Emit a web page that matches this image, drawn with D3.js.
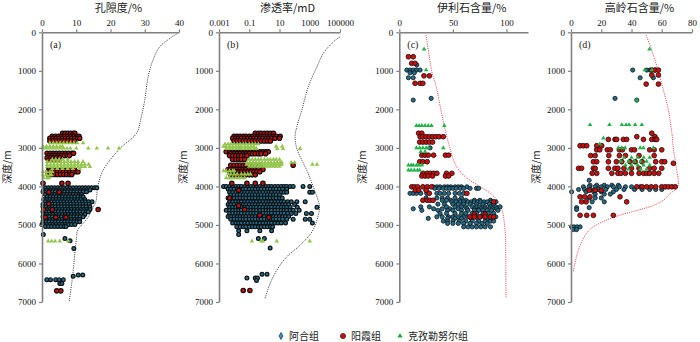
<!DOCTYPE html>
<html>
<head>
<meta charset="utf-8">
<script src="https://cdn.jsdelivr.net/npm/d3@7"></script>
<style>
  body { margin: 0; background: #fff; }
  svg { display: block; }
</style>
</head>
<body>
<div id="chart"></div>
<script>
// ---- data (depth in m, rows: [depth, [values...]]) ----
const groups = ["阿合组", "阳霞组", "克孜勒努尔组"];
const depthTicks = [0, 1000, 2000, 3000, 4000, 5000, 6000, 7000];

// (a) porosity, %
const porosityAhe = [
  [4035, [1,1.9,2.8,3.7,4.6,5.5,6.4,7.3,8.2,9.1,10,10.9,11.8,12.7,13.6,14.5,15.4,16]],
  [4090, [0.5,1.4,2.3,3.2,4.1,5,5.9,6.8,7.7,8.6,9.5,10.4,11.3,12.2,13.1,14]],
  [4140, [0.3,1.2,2.1,3,3.9,4.8,5.7,6.6,7.5,8.4,9.3,10.2,11.1,12,13]],
  [4210, [1,1.9,2.8,3.7,4.6,5.5,6.4,7.3,8.2,9.1,10,10.9,11.5]],
  [4270, [1.5,2.4,3.3,4.2,5.1,6,6.9,7.8,8.7,9.6,10.5,11.4,12]],
  [4340, [0.5,1.4,2.3,3.2,4.1,5,5.9,6.8,7.7,8.6,9.5,10.4,11.3,12.5]],
  [4400, [1,1.9,2.8,3.7,4.6,5.5,6.4,7.3,8.2,9.1,10,10.9,11.8,12.7,13.6,14.6]],
  [4460, [0.3,1.2,2.1,3,3.9,4.8,5.7,6.6,7.5,8.4,9.3,10.2,11.1,12,12.9,13.8]],
  [4530, [0.3,1.2,2.1,3,3.9,4.8,5.7,6.6,7.5,8.4,9.3,10.2,11.1,12,12.9,14]],
  [4600, [0.5,1.4,2.3,3.2,4.1,5,5.9,6.8,7.7,8.6,9.5,10.4,11.3,12.2,13.1,14]],
  [4660, [0.3,1.2,2.1,3,3.9,4.8,5.7,6.6,7.5,8.4,9.3,10.2,11.1,12,12.9,13.5]],
  [4730, [0.5,1.4,2.3,3.2,4.1,5,5.9,6.8,7.7,8.6,9.5,10.4,11.3,12.5]],
  [4790, [0.3,1.2,2.1,3,3.9,4.8,5.7,6.6,7.5,8.4,9.3,10.2,11.1,12]],
  [4860, [0.5,1.4,2.3,3.2,4.1,5,5.9,6.8,7.7,8.6,9.5,10.4,11]],
  [4920, [0.3,1.2,2.1,3,3.9,4.8,5.7,6.6,7.5,8.4,9.3,10.2,11]],
  [4990, [0,0.5,1.4,2.3,3.2,4.1,5,5.9,6.8,7.7,8.6,9.6]],
  [5040, [1,1.9,2.8,3.7,4.6,5.5,6.4,7]],
  [5250, [0.4]], [5350, [6.7]], [5410, [8.2]], [5610, [9.3]],
  [6300, [10.6,11.9]], [6330, [9.1]],
  [6420, [1.4,2.5,4,5,6.2]], [6520, [5.2,5.8]]
];
const porosityYangxia = [
  [2620, [6,6.8,7.6,8.4,9.2,9.6]],
  [2700, [3,3.9,4.8,5.7,6.6,7.5,8.4,9.3,10.2,10.8]],
  [2750, [2.3,3.2,4.1,5,5.9,6.8,7.7,8.6,9.5,10.4,11]],
  [2820, [2.3,3.2,4.1,5,5.9,6.8,7.7,8.6,9.6]],
  [3140, [1.5,2.4,3.3,4.2,5.1,6,6.9,7.8,8.7,9.2]],
  [3200, [2,2.9,3.8,4.7,5.6,6.5,7.4,8]],
  [3260, [1.5,2.4,3.3,4.2,5.2]],
  [3320, [2,2.9,3.8,5]],
  [3560, [2,2.9,3.8,4.7,5.6,6.5,7.4,8.3,9.5]],
  [3620, [1.8,2.7,3.6,4.5,5.4,6.3,7.2,8.1,9,9.9,10.5]],
  [3690, [1.8,2.7,3.6,4.5,5.4,6.3,7.2,8.1,8.7]],
  [3920, [0.3,5.8,7.6]],
  [4150, [2,5]], [4450, [2]], [4600, [0.5,3,16.4]], [4800, [1,4,7]],
  [6710, [4.3,5.5]]
];
const porosityKezi = [
  [2870, [2.3,3.3,4.3,5.3,6.3,7.3,8.3,9.3,10.3,12]],
  [2960, [0.3,1.3,2.3,3.3,4.3,5.3,6]],
  [3010, [0.3,1.3,2.3,3.3,4.3,5.3,6.3,7.3,8.3,10,13.5,16,19.3,22.5]],
  [3300, [3,4,5,6,7.5]],
  [3360, [1.5,2.5,3.5,4.5,5.5,6.5,7.5,8.5,9.5,10.5,12]],
  [3430, [1.5,2.5,3.5,4.5,5.5,6.5,7.5,8.5,9.5,10.5,11.5,12.5,13.6]],
  [3490, [1.5,2.5,3.5,4.5,5.5,6.5,7.5,8.5,9.5,10.5,11.5,12.5,14]],
  [3540, [3,4.5,6,7.5,9,11]],
  [3620, [0.3,1.3,2.3,3]], [3700, [0.3,1.3,2.3,2.8]], [3780, [0.5,1.5,2]],
  [5420, [1.8,2.8,3.8,5.2,7.6]]
];
const porosityTrend = [[0,40],[155,37.4],[375,34.4],[720,32.4],[1150,31],[1760,30],[2190,29],
  [2620,27.6],[3020,22.7],[3570,17.9],[4000,16.3],[4400,15.7],[4600,14.5],[4790,13.5],
  [5000,11.6],[5135,10.4],[5310,10.1],[6000,9.3],[6500,8.7],[7000,7.9]];

// (b) permeability, mD
const permAhe = [
  [4000, [0.002,0.003,0.005,0.008,0.013,0.02,0.03,0.05,0.08,0.13,0.2,0.3,0.5,0.8,1.3,2,3,5,8,13,20,30,50,80,360,1000]],
  [4070, [0.004,0.006,0.01,0.016,0.025,0.04,0.06,0.1,0.16,0.25,0.4,0.6,1,1.6,2.5,4,6,10,16,30]],
  [4150, [0.005,0.008,0.013,0.02,0.03,0.05,0.08,0.13,0.2,0.3,0.5,0.8,1.3,2,3,5,8,13,20,30,1000,1500]],
  [4220, [0.006,0.01,0.016,0.025,0.04,0.06,0.1,0.16,0.25,0.4,0.6,1,1.6,2.5,4,6,10]],
  [4300, [0.004,0.006,0.01,0.016,0.025,0.04,0.06,0.1,0.16,0.25,0.4,0.6,1,1.6,2.5,4,6,10,15]],
  [4400, [0.005,0.008,0.013,0.02,0.03,0.05,0.08,0.13,0.2,0.3,0.5,0.8,1.3,2,3,5,8,13,20,35,60,140,500]],
  [4470, [0.004,0.006,0.01,0.016,0.025,0.04,0.06,0.1,0.16,0.25,0.4,0.6,1,1.6,2.5,4,6,10,16,25,40,100]],
  [4540, [0.005,0.008,0.013,0.02,0.03,0.05,0.08,0.13,0.2,0.3,0.5,0.8,1.3,2,3,5,8,13,20,30,50,150,3000]],
  [4620, [0.003,0.005,0.008,0.013,0.02,0.03,0.05,0.08,0.13,0.2,0.3,0.5,0.8,1.3,2,3,5,8,13,20,30,50,80,200]],
  [4700, [0.005,0.008,0.013,0.02,0.03,0.05,0.08,0.13,0.2,0.3,0.5,0.8,1.3,2,3,5,8,13,20,35,60,120,600,1300]],
  [4780, [0.004,0.006,0.01,0.016,0.025,0.04,0.06,0.1,0.16,0.25,0.4,0.6,1,1.6,2.5,4,6,10,16,25,40]],
  [4850, [0.006,0.01,0.016,0.025,0.04,0.06,0.1,0.16,0.25,0.4,0.6,1,1.6,2.5,4,6,10,16,30,80,500,1000]],
  [4950, [0.008,0.013,0.02,0.03,0.05,0.08,0.13,0.2,0.3,0.5,0.8,1.3,2,3,5,8,13,25,1500]],
  [5050, [0.015,0.025,0.04,0.06,0.1,0.16,0.25,0.4,0.6,1,1.6,2.5,3.5]],
  [5150, [0.02,0.07,0.5,3]], [5250, [0.02]], [5350, [0.4,1]], [5600, [2.4]],
  [6280, [0.7,1.5]], [6380, [0.07,0.25,0.35]], [6440, [0.3]]
];
const permYangxia = [
  [2620, [0.25,0.4,0.6,1,1.6,2.5,4]],
  [2700, [0.01,0.016,0.025,0.04,0.06,0.1,0.16,0.25,0.4,0.6,1,1.6,2.5,4,6,11]],
  [2750, [0.008,0.013,0.02,0.03,0.05,0.08,0.13,0.2,0.3,0.5,0.8,1.3,2,3,5,10]],
  [2820, [0.01,0.016,0.025,0.04,0.06,0.1,0.16,0.25,0.4,0.6,1,1.6,2.5]],
  [3100, [0.003,0.005,0.008,0.013,0.02,0.03,0.05,0.08,0.13,0.2,0.3,0.5,0.8,1.3,1.8]],
  [3150, [0.006,0.01,0.016,0.025,0.04,0.06,0.1,0.16,0.25,0.4,0.6,1.2]],
  [3200, [0.005,0.008,0.013,0.02,0.03,0.05,0.07]],
  [3300, [0.008,0.013,0.02,0.03,0.05]],
  [3450, [0.006,0.01,0.016,0.025,0.04,0.06,0.1,0.16,0.25,0.5,80]],
  [3560, [0.004,0.006,0.01,0.016,0.025,0.04,0.06,0.1,0.16,0.25,0.4,0.8]],
  [3620, [0.005,0.008,0.013,0.02,0.03,0.05,0.08,0.13,0.2,0.3,0.5]],
  [3700, [0.006,0.01,0.016,0.025,0.04,0.06,0.1,0.16,0.25]],
  [3920, [0.007,0.07,0.25,0.8]],
  [4100, [0.02]], [4300, [0.005]], [4500, [0.02]], [4600, [0.05]], [4750, [0.5]], [4800, [2]],
  [6700, [0.04,0.11]]
];
const permKezi = [
  [2900, [0.0025,0.004,0.006,0.01,0.016,0.025,0.04,0.06,0.1,0.16,0.25,0.4]],
  [2960, [0.002,0.003,0.005,0.008,0.013,0.02,0.03,0.05,0.08,0.13,0.2,6,15]],
  [3020, [0.003,0.005,0.008,0.013,0.02,0.03,0.05,0.08,0.12,0.2,0.3,7,17,230]],
  [3300, [0.1,0.16,0.25,0.4,0.6,1,1.6,2.5,4,6,10]],
  [3380, [0.07,0.11,0.18,0.28,0.45,0.7,1.1,1.8,2.8,4.5,7,11,14,60,100]],
  [3430, [0.07,0.11,0.18,0.28,0.45,0.7,1.1,1.8,2.8,4.5,7,11,14,1500,3000]],
  [3480, [0.1,0.16,0.25,0.4,0.6,1,1.6,2.5,4,6,10]],
  [3600, [0.002,0.003,0.005,0.008,0.01]],
  [3680, [0.004,0.006,0.01,0.016,0.03,0.05,0.08,0.12]],
  [3780, [0.003,0.005,0.008,0.013,0.02,0.03,0.05]],
  [5420, [0.15,0.6,0.8,6.6,1000]]
];
const permTrend = [[115,100000],[245,37000],[545,8000],[893,3000],[1413,800],[2020,300],
  [2450,140],[2710,107],[3020,140],[3320,300],[3580,630],[3920,1400],[4270,3000],
  [4530,4400],[4875,3000],[5180,1400],[5525,230],[5830,30],[6175,6.6],[6520,2.4],[6910,1.1]];

// (c) illite, %
const illiteAhe = [
  [850, [16.3]], [980, [7,10,13,16,19.4]], [1050, [10,14]], [1180, [8.5,13]],
  [1715, [29.7]], [1760, [13]], [3000, [28.7]],
  [4010, [31.5,35,38,42,45,48,52,55,58,63]],
  [4050, [33,37,41,44,47,50,53,57,60,66,72,74]],
  [4180, [10,13,16,20,25.6,35,38,42,46,52,56,60]],
  [4300, [25,35,40,45,52,58]],
  [4360, [40,44,48,56,62,70,75,85]],
  [4400, [49,53,57,60,64,67,70,73,76,79,82,86,90]],
  [4460, [36,42,50,55,60,66,72,78,84,88]],
  [4530, [20,28,44,52,58,62,68,72,75,80,85,90,94]],
  [4580, [13,32,40,47,55,63,70,76,80,84,87,91]],
  [4620, [21,36,45,50,58,64,70,74,78,82,86,92]],
  [4700, [38,44,52,58,62,68,72,78,83,88]],
  [4790, [35,40,46,50,55,60,64,70,76,80,85,90]],
  [4830, [27,45,52,58,67,73,82,87]],
  [4900, [41,45,50,56,62,68,74,80,85,88]],
  [4960, [45,50,55,60,66,72,77,82]],
  [5050, [60,64,68,72,76,80,85]]
];
const illiteYangxia = [
  [635, [8.5,13]], [805, [11.5,14.7]], [1130, [23,28]], [1325, [14.7,19.4,21.9]],
  [2620, [18,21]],
  [2710, [19.4,22,25,28,31,34,37,41]],
  [2850, [19,22,25,28,31]],
  [3190, [21,24,27,32,43,46]],
  [3360, [19,22,26]],
  [3660, [22,26,29,32,35,44,49]],
  [3730, [21,24,27,31,43,46]],
  [4010, [11.6,14,17,22,26,30]],
  [4100, [15,18,25]],
  [4180, [28,63]],
  [4360, [22,26,28.7,31.5]],
  [4400, [88]],
  [4720, [70,80]],
  [4790, [66,70,75,80,85,88]]
];
const illiteKezi = [
  [440, [23.1]], [980, [25]],
  [2425, [16,18.5,21,24,27,30,42]],
  [3000, [16,19,22,25,27,41]],
  [3100, [20,24]],
  [3450, [8.5,11,13,16,18,21]],
  [3580, [8.5,11,14,17,19]]
];
const illiteTrend = [[70,24.9],[635,28],[1020,30.3],[1410,34.4],[2020,38.8],[2450,42.1],
  [2880,45.9],[3320,50.6],[3490,53.5],[3750,61.5],[4010,75.6],[4180,85],[4360,91.2],
  [4620,95.9],[4960,98],[5310,99],[6000,99.3],[6900,99.5]];

// (d) kaolinite, %
const kaolAhe = [
  [980, [40.8,50.1,52.3,55.5]], [1180, [45.7,54.5]], [1715, [29.1]], [1760, [43.5]],
  [3840, [12]],
  [3970, [12.6,17,22,27,31.3]],
  [4010, [8.2,12,16,20,24,28,32,36,40,45.7]],
  [4080, [5,9,13,18,23,30,35,42,47,52,56,60]],
  [4140, [0.4,10,15,20,28]],
  [4200, [16,22,26]], [4300, [12,16,20]], [4400, [14,22]],
  [4550, [3.7,12]], [4600, [3.7]],
  [5050, [0.4,2,4,6]], [5120, [1.5,3.7]]
];
const kaolYangxia = [
  [980, [53.4,55.6,57.8]], [1110, [53.4,57.8]], [1345, [49.7,57.8]],
  [2620, [53.4]], [2710, [43.5,55.5]],
  [2780, [24.7,29.1,30.2,34.6,36.8,47.9,53.4,55.6,56.7]],
  [2945, [6,8.1,10.4,17,20.3]],
  [3050, [17,19,24,26,32,34,40,42,52,55,60]],
  [3200, [13,16,25,32,36,45,55]],
  [3360, [14.8,17,24.7,30,33.6,39,42.4,47,56,60,62]],
  [3400, [67.7]],
  [3530, [5,7,14.8,16,24.7,29,31,35,40,45,52,55,60]],
  [3660, [14,17,27,31,33,36,40,45,48,50,52,55,58]],
  [4010, [43.5,47,50,53,56,60,62.3,64.4,66.7,68.9]],
  [4100, [12,16,20]],
  [4270, [6,9,12.6,32.4]],
  [4400, [7,10,36.8]],
  [4750, [6,10.4,14.8,28]]
];
const kaolKezi = [
  [440, [51.9]], [980, [48.7,53.4]], [1760, [43.5]],
  [2400, [12.6,25.4,33.6,36.4,38.4,42.4,46.8]],
  [2750, [21.4]], [2900, [19]],
  [3000, [31.3,33.6,35.8,45.7,47.9,54.5]],
  [3250, [35,40,44,48,52]], [3350, [33,38,42,46,50]],
  [3450, [36,40,44,48,52]], [3550, [38,46,50]]
];
const kaolTrend = [[70,49.6],[460,53.4],[1020,57.8],[1500,61.1],[2020,64.4],[2620,66.7],
  [3030,67.7],[3490,69.5],[4010,70.6],[4180,65.6],[4360,61],[4500,54],[4620,44],[4750,32],
  [4900,22],[5100,13],[5400,7.5],[5800,3.8],[6220,1.5]];

// ---- layout ----
const W = 700, H = 342;
const yTop = 32.3, yBot = 302;
const colors = { ahe: "#1f6d8c", yang: "#d10a0a", keziAB: "#93c64c", keziCD: "#1fb445", axis: "#808080" };
const serif = "'Liberation Serif', 'DejaVu Serif', serif";
const cjk = "'Noto Sans CJK SC', 'Noto Sans', sans-serif";

// dense panels (a, b) get heavier outlines, like the source print
const panels = [
  { id: "(a)", title: "孔隙度/%", x0: 42, x1: 179, scale: d3.scaleLinear().domain([0, 40]),
    ticks: [0, 10, 20, 30, 40], fmt: d => d, ahe: porosityAhe, yang: porosityYangxia, kezi: porosityKezi,
    trend: porosityTrend, trendColor: "#333", kezColor: colors.keziAB, yLab: 7, r: 1.9, sw: 1.2 },
  { id: "(b)", title: "渗透率/mD", x0: 219, x1: 340, scale: d3.scaleLog().domain([0.001, 100000]),
    ticks: [0.001, 0.1, 10, 1000, 100000], fmt: d => d >= 1 ? d3.format("d")(d) : String(d),
    ahe: permAhe, yang: permYangxia, kezi: permKezi, trend: permTrend, trendColor: "#333",
    kezColor: colors.keziAB, yLab: 183, r: 1.9, sw: 1.2 },
  { id: "(c)", title: "伊利石含量/%", x0: 399.3, x1: 528, scale: d3.scaleLinear().domain([0, 120]),
    ticks: [0, 50, 100], fmt: d => d, ahe: illiteAhe, yang: illiteYangxia, kezi: illiteKezi,
    trend: illiteTrend, trendColor: "#ee3a45", kezColor: colors.keziCD, yLab: 362, r: 2.1, sw: 0.8 },
  { id: "(d)", title: "高岭石含量/%", x0: 571, x1: 692, scale: d3.scaleLinear().domain([0, 80]),
    ticks: [0, 20, 40, 60, 80], fmt: d => d, ahe: kaolAhe, yang: kaolYangxia, kezi: kaolKezi,
    trend: kaolTrend, trendColor: "#ee3a45", kezColor: colors.keziCD, yLab: 536, r: 2.1, sw: 0.8 }
];

const y = d3.scaleLinear().domain([0, 7000]).range([yTop, yBot]);
const flatten = rows => rows.flatMap(([depth, vals]) => vals.map(v => ({ depth, v })));

const svg = d3.select("#chart").append("svg")
  .attr("width", W).attr("height", H)
  .style("font-family", serif);

panels.forEach(p => {
  const x = p.scale.range([p.x0, p.x1]);
  const g = svg.append("g");

  // trend curve
  g.append("path")
    .datum(p.trend)
    .attr("d", d3.line().x(d => x(d[1])).y(d => y(d[0])).curve(d3.curveCatmullRom))
    .attr("fill", "none")
    .attr("stroke", p.trendColor)
    .attr("stroke-width", 1)
    .attr("stroke-dasharray", "1,1.2");

  // points
  g.append("g").selectAll("circle")
    .data(flatten(p.ahe))
    .join("circle")
    .attr("cx", d => x(d.v)).attr("cy", d => y(d.depth)).attr("r", p.r)
    .attr("fill", colors.ahe).attr("stroke", "#111").attr("stroke-width", p.sw);

  g.append("g").selectAll("circle")
    .data(flatten(p.yang))
    .join("circle")
    .attr("cx", d => x(d.v)).attr("cy", d => y(d.depth)).attr("r", p.r + 0.3)
    .attr("fill", colors.yang).attr("stroke", "#111").attr("stroke-width", p.sw);

  g.append("g").selectAll("path")
    .data(flatten(p.kezi))
    .join("path")
    .attr("d", d3.symbol(d3.symbolTriangle, 9))
    .attr("transform", d => `translate(${x(d.v)},${y(d.depth)})`)
    .attr("fill", p.kezColor);

  // axes
  const top = g.append("g")
    .attr("transform", `translate(0,${yTop})`)
    .call(d3.axisTop(x).tickValues(p.ticks).tickFormat(p.fmt).tickSize(3).tickSizeOuter(0));
  const left = g.append("g")
    .attr("transform", `translate(${p.x0},0)`)
    .call(d3.axisLeft(y).tickValues(depthTicks).tickFormat(d3.format("d")).tickSize(3).tickSizeOuter(0));

  [top, left].forEach(a => {
    a.attr("font-family", serif).attr("font-size", 9);
    a.select(".domain").attr("stroke", colors.axis).attr("stroke-width", 1.6);
    a.selectAll(".tick line").attr("stroke", colors.axis).attr("stroke-width", 1.2);
    a.selectAll("text").attr("fill", "#111");
  });

  // title
  g.append("text")
    .attr("x", (p.x0 + p.x1) / 2 + 8).attr("y", 12)
    .attr("text-anchor", "middle")
    .style("font-family", cjk).style("font-size", "11px").attr("fill", "#222")
    .text(p.title);

  // panel id
  g.append("text")
    .attr("x", p.x0 + 8).attr("y", 48)
    .style("font-size", "10px").attr("fill", "#222")
    .text(p.id);

  // depth label
  g.append("text")
    .attr("transform", `translate(${p.yLab},${y(3500)}) rotate(-90)`)
    .attr("text-anchor", "middle")
    .attr("dy", "0.35em")
    .style("font-family", cjk).style("font-size", "10px").attr("fill", "#222")
    .text("深度/m");
});

// legend
const legend = svg.append("g").attr("transform", "translate(0,336)");
const legendItems = [
  { x: 281, label: groups[0], kind: "ahe" },
  { x: 343, label: groups[1], kind: "yang" },
  { x: 400, label: groups[2], kind: "kezi" }
];
legendItems.forEach(it => {
  if (it.kind === "ahe") {
    legend.append("path").attr("d", d3.symbol(d3.symbolDiamond, 14))
      .attr("transform", `translate(${it.x},0)`)
      .attr("fill", "#2a9bd0").attr("stroke", "#111").attr("stroke-width", 0.6);
  } else if (it.kind === "yang") {
    legend.append("circle").attr("cx", it.x).attr("r", 2.6)
      .attr("fill", colors.yang).attr("stroke", "#111").attr("stroke-width", 0.6);
  } else {
    legend.append("path").attr("d", d3.symbol(d3.symbolTriangle, 12))
      .attr("transform", `translate(${it.x},0)`)
      .attr("fill", "#22aa33");
  }
  legend.append("text")
    .attr("x", it.x + 8).attr("dy", "0.35em")
    .style("font-family", cjk).style("font-size", "10px").attr("fill", "#222")
    .text(it.label);
});
</script>
</body>
</html>
